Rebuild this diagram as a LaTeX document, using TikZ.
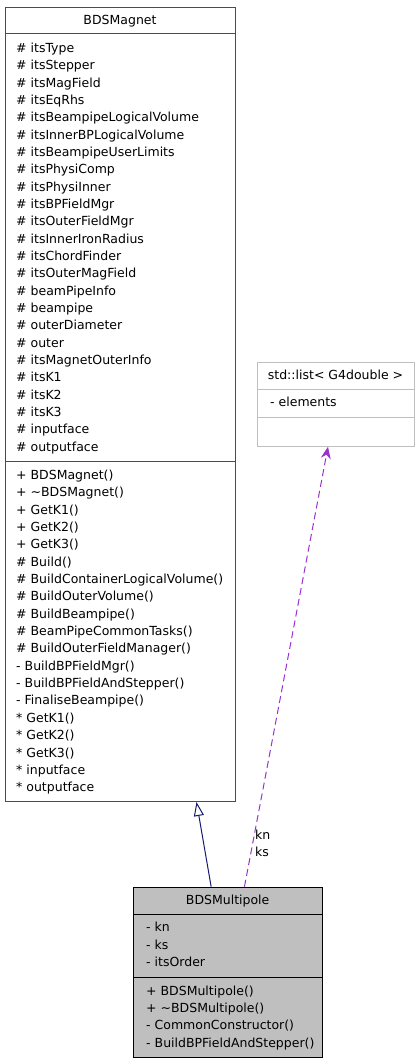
\documentclass[tikz,border=0pt]{standalone}
\usepackage{fontspec}
\setmainfont{DejaVu Sans}
\usetikzlibrary{arrows.meta,calc}
\definecolor{lgray}{HTML}{BFBFBF}
\definecolor{boxgray}{HTML}{BFBFBF}
\definecolor{inhblue}{HTML}{191970}
\definecolor{usepurple}{HTML}{9A32CD}
\tikzset{
  txt/.style={inner sep=0pt, anchor=base west, font=\fontsize{12.5}{14}\selectfont},
  ttl/.style={inner sep=0pt, anchor=base, font=\fontsize{12.5}{14}\selectfont},
  classbox/.style={rectangle, inner sep=0pt, anchor=north west, line width=1pt},
  inherit/.style={draw=inhblue, line width=1pt, -{Triangle[open, length=14pt, width=10pt]}},
  usage/.style={draw=usepurple, line width=1pt, dash pattern=on 7pt off 4pt, -{Stealth[length=12pt, width=10pt, inset=4pt]}},
  elabel/.style={inner sep=0pt, anchor=base west, font=\fontsize{12.5}{14}\selectfont},
}
\begin{document}
\begin{tikzpicture}[x=1pt, y=-1pt]
\useasboundingbox (0,0) rectangle (419,1064);
% BDSMagnet
\node[classbox, draw=red, fill=white, minimum width=230pt, minimum height=794pt] (mag) at (5,7) {};
\draw[red, line width=1pt] (mag.north west) ++(0,27) coordinate (ms1) -- (ms1 -| mag.east);
\draw[red, line width=1pt] (mag.north west) ++(0,454) coordinate (ms2) -- (ms2 -| mag.east);
\node[ttl] (magt) at (120,24.5) {BDSMagnet};
\foreach \t [count=\i from 0] in {itsType,itsStepper,itsMagField,itsEqRhs,itsBeampipeLogicalVolume,itsInnerBPLogicalVolume,itsBeampipeUserLimits,itsPhysiComp,itsPhysiInner,itsBPFieldMgr,itsOuterFieldMgr,itsInnerIronRadius,itsChordFinder,itsOuterMagField,beamPipeInfo,beampipe,outerDiameter,outer,itsMagnetOuterInfo,itsK1,itsK2,itsK3,inputface,outputface}
  \node[txt] (mat\i) at (16, 52.5+17.33*\i) {\# \t};
\foreach \t [count=\i from 0] in {+ BDSMagnet(),+ \textasciitilde BDSMagnet(),+ GetK1(),+ GetK2(),+ GetK3(),\# Build(),\# BuildContainerLogicalVolume(),\# BuildOuterVolume(),\# BuildBeampipe(),\# BeamPipeCommonTasks(),\# BuildOuterFieldManager(),- BuildBPFieldMgr(),- BuildBPFieldAndStepper(),- FinaliseBeampipe(),* GetK1(),* GetK2(),* GetK3(),* inputface,* outputface}
  \node[txt] (mme\i) at (16, 479.3+17.36*\i) {\t};
% std::list
\node[classbox, draw=lgray, fill=white, minimum width=157pt, minimum height=83.5pt] (lst) at (257,362.3) {};
\draw[lgray, line width=1pt] (lst.north west) ++(0,27.4) coordinate (ls1) -- (ls1 -| lst.east);
\draw[lgray, line width=1pt] (lst.north west) ++(0,55.4) coordinate (ls2) -- (ls2 -| lst.east);
\node[ttl] (lstt) at (335.5,379.5) {std::list< G4double >};
\node[txt] (lsta) at (270,406.7) {- elements};
% BDSMultipole
\node[classbox, draw=black, fill=boxgray, minimum width=188.7pt, minimum height=170pt] (mul) at (133.3,886.7) {};
\draw[black, line width=1pt] (mul.north west) ++(0,28) coordinate (us1) -- (us1 -| mul.east);
\draw[black, line width=1pt] (mul.north west) ++(0,90.6) coordinate (us2) -- (us2 -| mul.east);
\node[ttl] (mult) at (227.65,904) {BDSMultipole};
\foreach \t [count=\i from 0] in {- kn,- ks,- itsOrder}
  \node[txt] (mua\i) at (146, 931.7+17.3*\i) {\t};
\foreach \t [count=\i from 0] in {+ BDSMultipole(),+ \textasciitilde BDSMultipole(),- CommonConstructor(),- BuildBPFieldAndStepper()}
  \node[txt] (mum\i) at (146, 995+17.33*\i) {\t};
% connectors
\draw[inherit] ([xshift=-17pt]mul.north) -- ([xshift=76pt]mag.south);
\draw[usage] ([xshift=16.3pt]mul.north) -- ([xshift=-8pt]lst.south);
\node[elabel] (lkn) at (255,839) {kn};
\node[elabel] (lks) at (255,856) {ks};
\end{tikzpicture}
\end{document}
